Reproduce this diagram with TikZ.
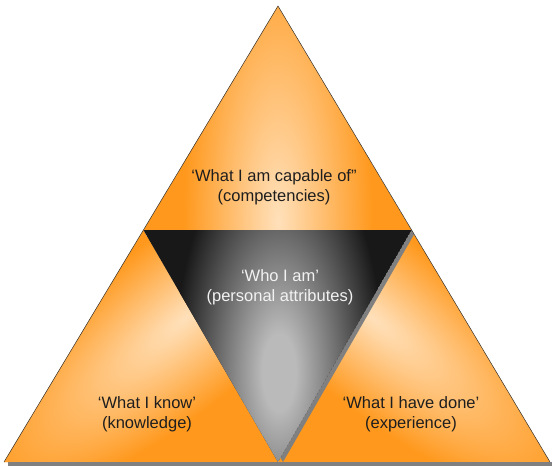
\documentclass[tikz,border=0pt]{standalone}
\usepackage{fontspec}
\setmainfont{Liberation Sans}
\definecolor{org}{RGB}{255,152,28}
\definecolor{pch}{RGB}{255,224,186}
\definecolor{dgr}{RGB}{24,24,24}
\definecolor{lgr}{RGB}{186,186,186}
\definecolor{shd}{RGB}{128,128,128}
\definecolor{ink}{RGB}{30,30,30}
% soft glows used inside the triangles
\pgfdeclareradialshading{gloworange}{\pgfpointorigin}{color(0bp)=(pch); color(4bp)=(pch!85!org); color(25bp)=(org); color(50bp)=(org)}
\pgfdeclareradialshading{glowdark}{\pgfpointorigin}{color(0bp)=(lgr); color(4bp)=(lgr); color(25bp)=(dgr); color(50bp)=(dgr)}
% #1 shading, #2 centre, #3 angle, #4 short radius, #5 long radius
\newcommand\glowpatch[5]{%
  \begin{scope}[transform canvas={rotate around={#3:#2}}]
    \shade[shading=#1] #2 ellipse [x radius=#4, y radius=#5];
  \end{scope}}
\begin{document}
\begin{tikzpicture}[x=1pt,y=-1pt,
  lbl/.style={align=center, font=\fontsize{16.5}{20}\selectfont, text=ink},
  lblw/.style={lbl, text=white!95!black},
  edge/.style={draw=black!80, line width=0.5pt}]
\useasboundingbox (0,0) rectangle (552,466);
% corners of the big triangle and of the inner one
\coordinate (apex) at (278,6);
\coordinate (bl) at (4,462);
\coordinate (br) at (550,462);
\coordinate (il) at (143.4,230);
\coordinate (ir) at (411.6,230);
\coordinate (ib) at (278,462);

% top piece
\begin{scope}
  \clip (apex) -- (il) -- (ir) -- cycle;
  \fill[org] (apex) -- (il) -- (ir) -- cycle;
  \glowpatch{gloworange}{(278,222)}{0}{95}{300}
\end{scope}
% bottom-left piece
\begin{scope}
  \clip (il) -- (bl) -- (ib) -- cycle;
  \fill[org] (il) -- (bl) -- (ib) -- cycle;
  \glowpatch{gloworange}{(185,318)}{-50}{85}{260}
\end{scope}
% bottom-right piece
\begin{scope}
  \clip (ir) -- (br) -- (ib) -- cycle;
  \fill[org] (ir) -- (br) -- (ib) -- cycle;
  \glowpatch{gloworange}{(373,318)}{50}{85}{260}
\end{scope}

% shadow of the centre piece
\begin{scope}
  \clip (apex) -- (bl) -- (br) -- cycle;
  \fill[shd] ([xshift=5pt]il) -- ([xshift=5pt]ir) -- ([xshift=5pt]ib) -- cycle;
\end{scope}

% centre piece
\begin{scope}
  \clip (il) -- (ir) -- (ib) -- cycle;
  \fill[dgr] (il) -- (ir) -- (ib) -- cycle;
  \glowpatch{glowdark}{(279,372)}{0}{105}{240}
\end{scope}

% outer edges and the floor line
\draw[edge] (bl) -- (apex) -- (br);
\fill[shd] (8,462) rectangle (552,466);

% labels
\node[lbl] (cap) at (274,187) {‘What I am capable of”\\(competencies)};
\node[lblw] (who) at (280,287) {‘Who I am’\\(personal attributes)};
\node[lbl] (know) at (147,414) {‘What I know’\\(knowledge)};
\node[lbl] (done) at (411,414) {‘What I have done’\\(experience)};
\end{tikzpicture}
\end{document}
